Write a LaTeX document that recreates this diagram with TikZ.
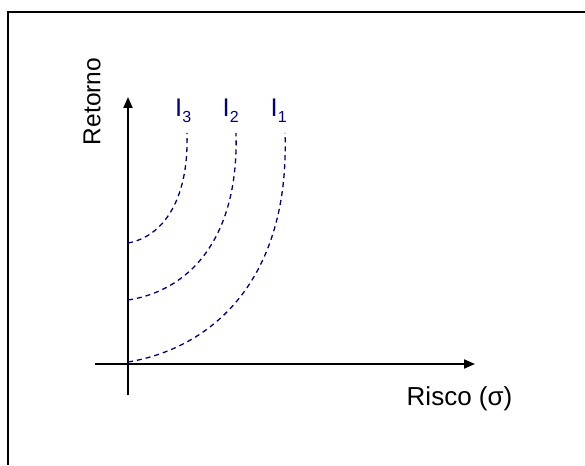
\documentclass[tikz,border=0pt]{standalone}
\usepackage{fontspec}
\setmainfont{Liberation Sans}
\usetikzlibrary{arrows.meta}
\definecolor{curveblue}{HTML}{000080}
\tikzset{
  % the two axes of the chart
  axis/.style={draw=black, line width=2pt, -{Triangle[length=11pt,width=9pt]}},
  % an indifference curve
  indiff/.style={draw=curveblue, line width=1.3pt, dash pattern=on 5pt off 4pt},
  % axis titles and curve names
  lbl/.style={font=\fontsize{24.5}{28}\selectfont, inner sep=0pt},
  curvelbl/.style={text=curveblue, font=\fontsize{25.5}{30}\selectfont, inner sep=0pt, anchor=base west},
}
\newcommand{\curvename}[1]{I\raisebox{-5.5pt}{\fontsize{16}{16}\selectfont #1}}

\begin{document}
\begin{tikzpicture}[x=1pt, y=-1pt]
  \useasboundingbox (0,0) rectangle (585,465);

  % frame, only top and left edges show
  \draw[line width=2pt] (7.5,465) -- (7.5,12.5) -- (585,12.5);

  % axes
  \coordinate (ybot) at (128,395);
  \coordinate (ytop) at (128,97);
  \coordinate (xleft) at (95,364);
  \coordinate (xright) at (475,364);
  \draw[axis] (ybot) -- (ytop);
  \draw[axis] (xleft) -- (xright);

  \node[lbl, rotate=90] (retorno) at (92,101.5) {Retorno};
  \node[lbl, font=\fontsize{26}{30}\selectfont, anchor=base] (risco) at (459.5,405) {Risco (σ)};

  % indifference curves
  \coordinate (s1) at (128,362);
  \coordinate (e1) at (285,133);
  \coordinate (s2) at (128,300);
  \coordinate (e2) at (236,133);
  \coordinate (s3) at (128,243);
  \coordinate (e3) at (187,133);
  \draw[indiff] (s1) .. controls (212,348) and (290,280) .. (e1);
  \draw[indiff] (s2) .. controls (188,291) and (239,240) .. (e2);
  \draw[indiff] (s3) .. controls (161,237) and (189,203) .. (e3);

  \node[curvelbl] (i3) at (175,117) {\curvename{3}};
  \node[curvelbl] (i2) at (222.5,117) {\curvename{2}};
  \node[curvelbl] (i1) at (270.5,117) {\curvename{1}};

\end{tikzpicture}
\end{document}
